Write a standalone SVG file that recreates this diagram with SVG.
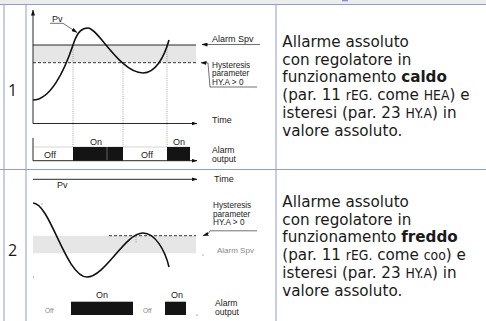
<svg xmlns="http://www.w3.org/2000/svg" width="486" height="321" viewBox="0 0 486 321">
<defs>
<marker id="ah" markerWidth="6" markerHeight="4" refX="5.5" refY="2" orient="auto" markerUnits="userSpaceOnUse">
<path d="M0,0 L6,2 L0,4 Z" fill="#111"/>
</marker>
<style>
.tb{stroke:#8c9ed4;stroke-width:1;fill:none}
.ax{stroke:#111;stroke-width:0.9;fill:none}
.cv{stroke:#111;stroke-width:1.6;fill:none}
.dt{stroke:#666;stroke-width:0.6;stroke-dasharray:1 1.2;fill:none}
.dsh{stroke:#222;stroke-width:0.9;stroke-dasharray:3 2;fill:none}
.band{fill:#e6e6e6}
.bar{fill:#141414}
.lb{font-family:"Liberation Sans",Arial,sans-serif;font-size:9px;fill:#1a1a1a}
.ao{font-family:"Liberation Sans",Arial,sans-serif;font-size:8.6px;fill:#1a1a1a}
.sm{font-family:"Liberation Sans",Arial,sans-serif;font-size:8.2px;fill:#1a1a1a}
.gr{font-family:"Liberation Sans",Arial,sans-serif;font-size:8px;fill:#888}
.gs{font-family:"Liberation Sans",Arial,sans-serif;font-size:6.5px;fill:#888}
.num{font-family:"Open Sans","Liberation Sans",sans-serif;font-size:16px;fill:#1a1a1a}
.tx{font-family:"DejaVu Sans",sans-serif;font-size:15.2px;fill:#1a1a1a}
.b{font-weight:bold}
.seg{font-family:"DejaVu Sans Condensed","DejaVu Sans",sans-serif;font-size:13.8px;font-weight:300}
.lead{stroke:#333;stroke-width:0.7;fill:none}
</style>
</defs>
<rect x="0" y="0" width="486" height="4.5" fill="#ececec"/>
<rect x="342" y="0" width="6" height="1.3" fill="#7d93d0"/>
<g id="table">
<line class="tb" x1="0" y1="4.5" x2="486" y2="4.5"/>
<line class="tb" x1="0" y1="169.5" x2="486" y2="169.5"/>
<line class="tb" x1="4" y1="4.5" x2="4" y2="321"/>
<line class="tb" x1="26" y1="4.5" x2="26" y2="321"/>
<line class="tb" x1="276" y1="4.5" x2="276" y2="321"/>
</g>
<g id="row1">
<text class="num" x="8" y="96">1</text>
<rect class="band" x="33" y="45" width="163" height="17.7"/>
<line class="dt" x1="73" y1="45" x2="73" y2="147"/>
<line class="dt" x1="123" y1="63" x2="123" y2="147"/>
<line class="dt" x1="167" y1="45" x2="167" y2="147"/>
<line class="ax" x1="33" y1="45" x2="196" y2="45"/>
<line class="dsh" x1="33" y1="62.7" x2="196" y2="62.7"/>
<path class="cv" d="M33,100 C50,100 64,72 73,45 C77.8,30 83,28 88,28 C98,28 120,73 143,73 C155,73 164,58 169,40"/>
<text class="lb" x="52" y="21.5">Pv</text>
<path class="lead" d="M50,23.3 L63,23.3 L77,32.5" marker-end="url(#ah)"/>
<text class="lb" x="212" y="42">Alarm Spv</text>
<line class="lead" x1="260" y1="44.5" x2="202" y2="44.5" marker-end="url(#ah)"/>
<text class="sm" x="212" y="68">Hysteresis</text>
<text class="sm" x="212" y="76">parameter</text>
<text class="sm" x="212" y="84.5">HY.A &gt; 0</text>
<path class="lead" d="M257,87 L210,87 L208,63 L201,62.7" marker-end="url(#ah)"/>
<text class="lb" x="212" y="123">Time</text>
<line class="ax" x1="33" y1="123.5" x2="33" y2="10" marker-end="url(#ah)"/>
<line class="ax" x1="33" y1="123.5" x2="197" y2="123.5" marker-end="url(#ah)"/>
<line x1="33" y1="147" x2="190" y2="147" stroke="#bbb" stroke-width="0.6"/>
<rect class="bar" x="73" y="147" width="50" height="13.7"/>
<rect class="bar" x="167" y="147" width="23" height="13.7"/>
<line x1="107" y1="147" x2="107" y2="160.7" stroke="#888" stroke-width="0.7"/>
<line class="ax" x1="33" y1="138" x2="33" y2="160.7"/>
<line class="ax" x1="33" y1="160.7" x2="197" y2="160.7" marker-end="url(#ah)"/>
<text class="lb" x="96" y="145" text-anchor="middle">On</text>
<text class="lb" x="179" y="145" text-anchor="middle">On</text>
<text class="lb" x="50" y="158" text-anchor="middle">Off</text>
<text class="lb" x="147" y="158" text-anchor="middle">Off</text>
<text class="ao" x="212" y="153.3">Alarm</text>
<text class="ao" x="212" y="162.3">output</text>
<text class="tx" x="282.3" y="46.7">Allarme assoluto</text>
<text class="tx" x="282.3" y="64.56">con regolatore in</text>
<text class="tx" x="282.3" y="82.42">funzionamento <tspan class="b">caldo</tspan></text>
<text class="tx" x="282.3" y="100.28">(par. 11 <tspan class="seg">rEG.</tspan> come <tspan class="seg">HEA</tspan>) e</text>
<text class="tx" x="282.3" y="118.14">isteresi (par. 23 <tspan class="seg">HY.A</tspan>) in</text>
<text class="tx" x="282.3" y="136">valore assoluto.</text>
</g>
<g id="row2">
<text class="num" x="8" y="256">2</text>
<rect class="band" x="33" y="235.7" width="163" height="17.6"/>
<line class="dsh" x1="109" y1="235.7" x2="196" y2="235.7"/>
<line class="dt" x1="136" y1="237" x2="136" y2="243"/>
<path class="cv" d="M33,203 C50,203 66,277 87,277 C105,277 125,233 143,233 C155,233 165,250 169,267"/>
<line class="ax" x1="33" y1="179.3" x2="197" y2="179.3" marker-end="url(#ah)"/>
<text class="lb" x="214" y="182">Time</text>
<text class="lb" x="57" y="188">Pv</text>
<circle cx="42" cy="204" r="0.5" fill="#444"/>
<circle cx="33.5" cy="277" r="0.5" fill="#444"/>
<circle cx="203" cy="255" r="0.5" fill="#444"/>
<circle cx="197" cy="315" r="0.6" fill="#444"/>
<text class="sm" x="213" y="208">Hysteresis</text>
<text class="sm" x="213" y="217">parameter</text>
<text class="sm" x="213" y="225">HY.A &gt; 0</text>
<path class="lead" d="M257,230.8 L210,230.8 L208,234 L203,235.7" marker-end="url(#ah)"/>
<text class="gr" x="217" y="252.7">Alarm Spv</text>
<rect class="bar" x="71" y="301.7" width="62" height="13.3"/>
<rect class="bar" x="165" y="301.7" width="21" height="13.3"/>
<text class="lb" x="102" y="298" text-anchor="middle">On</text>
<text class="lb" x="177" y="298" text-anchor="middle">On</text>
<text class="gs" x="45" y="312.7">Off</text>
<text class="gs" x="143" y="312.7">Off</text>
<text class="ao" x="215" y="306.4">Alarm</text>
<text class="ao" x="215" y="315.4">output</text>
<text class="tx" x="282.3" y="206.7">Allarme assoluto</text>
<text class="tx" x="282.3" y="224.56">con regolatore in</text>
<text class="tx" x="282.3" y="242.42">funzionamento <tspan class="b">freddo</tspan></text>
<text class="tx" x="282.3" y="260.28">(par. 11 <tspan class="seg">rEG.</tspan> come <tspan class="seg">coo</tspan>) e</text>
<text class="tx" x="282.3" y="278.14">isteresi (par. 23 <tspan class="seg">HY.A</tspan>) in</text>
<text class="tx" x="282.3" y="296">valore assoluto.</text>
</g>
</svg>
